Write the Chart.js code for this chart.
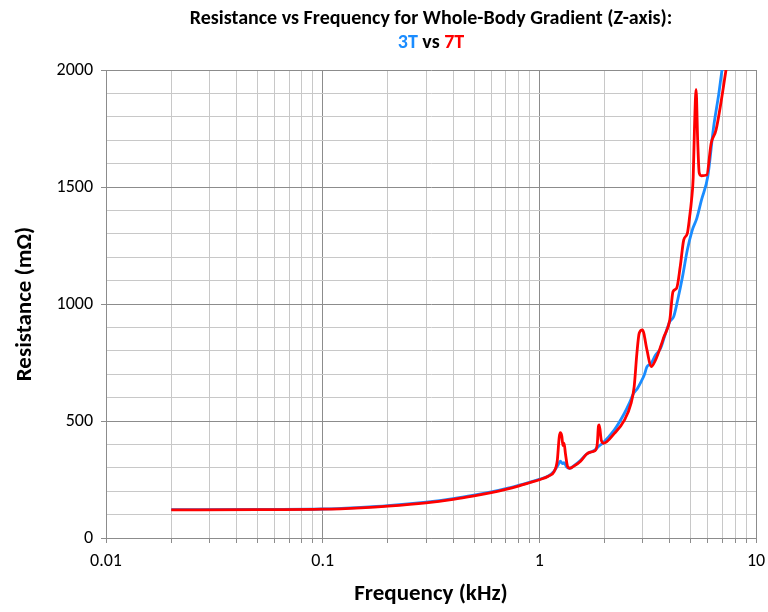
<!DOCTYPE html>
<html>
<head>
<meta charset="utf-8">
<script src="https://cdn.jsdelivr.net/npm/chart.js@4/dist/chart.umd.min.js"></script>
<style>
  html, body { margin: 0; padding: 0; background: #fff; }
  #wrap { width: 768px; height: 612px; }
</style>
</head>
<body>
<div id="wrap"><canvas id="chart" width="768" height="612"></canvas></div>
<script>
// Frequency in kHz, resistance in mOhm
const freq3T = [0.02, 0.05, 0.1, 0.15, 0.2, 0.3, 0.4, 0.5, 0.6, 0.7, 0.8, 0.9, 1.0, 1.1, 1.17,
    1.22, 1.25, 1.28, 1.3, 1.34, 1.38, 1.45, 1.55, 1.65, 1.72, 1.8, 1.88, 1.96, 2.22, 2.47,
    2.6, 2.72, 2.84, 2.95, 3.05, 3.14, 3.28, 3.44, 3.63, 3.76, 4.0, 4.17, 4.35, 4.58, 4.82,
    5.08, 5.33, 5.6, 5.99, 6.37, 6.73, 6.97, 7.3];
const res3T = [121, 122, 124, 131, 138, 153, 168, 183, 197, 211, 225, 238, 251, 265, 286,
    312, 328, 318, 322, 302, 298, 310, 332, 358, 367, 375, 392, 405, 462, 533,
    575, 618, 640, 668, 697, 732, 746, 782, 811, 853, 925, 946, 1017, 1117, 1231,
    1316, 1366, 1444, 1545, 1755, 1897, 2000, 2110];

const freq7T = [0.02, 0.05, 0.1, 0.15, 0.2, 0.3, 0.4, 0.5, 0.6, 0.7, 0.8, 0.9, 1.0, 1.1, 1.17,
    1.21, 1.235, 1.25, 1.27, 1.285, 1.3, 1.32, 1.35, 1.38, 1.45, 1.55, 1.65, 1.72, 1.8, 1.85,
    1.875, 1.89, 1.93, 1.98, 2.22, 2.47, 2.65, 2.74, 2.82, 2.89, 2.99, 3.14, 3.28, 3.44, 3.63,
    3.76, 4.0, 4.14, 4.3, 4.47, 4.64, 4.82, 4.94, 5.04, 5.13, 5.2, 5.29, 5.38, 5.47, 5.6,
    5.92, 6.21, 6.54, 7.27, 7.6];
const res7T = [120, 121, 123, 129, 136, 150, 165, 180, 194, 208, 222, 236, 249, 264, 284,
    330, 430, 450, 435, 395, 405, 360, 305, 298, 308, 328, 358, 367, 372, 400,
    478, 483, 420, 405, 447, 504, 575, 647, 789, 875, 889, 803, 732, 761, 818,
    860, 932, 1053, 1067, 1160, 1274, 1302, 1373, 1444, 1540, 1750, 1917, 1700, 1560, 1548,
    1551, 1687, 1744, 2000, 2120];

const xDecades = [0.01, 0.1, 1, 10];
const yMin = 0, yMax = 2000, yMinorStep = 100, yMajorStep = 500;

const titleLine1 = "Resistance vs Frequency for Whole-Body Gradient (Z-axis):";
const titleLine2 = [["3T", "#1a8cff"], [" vs ", "#000000"], ["7T", "#ff0000"]];

const FONT = "Carlito, Calibri, Lato, sans-serif";
const MAJOR = "#8c8c8c";
const MINOR = "#c8c8c8";

function toPoints(xs, ys) {
    return xs.map((x, i) => ({ x, y: ys[i] }));
}

function isDecade(v) {
    const l = Math.log10(v);
    return Math.abs(l - Math.round(l)) < 1e-9;
}

const titlePlugin = {
    id: "twoLineTitle",
    afterDraw(chart) {
        const { ctx, chartArea } = chart;
        const cx = (chartArea.left + chartArea.right) / 2;
        ctx.save();
        ctx.textBaseline = "middle";
        ctx.font = `bold 20px ${FONT}`;
        ctx.fillStyle = "#000";
        ctx.textAlign = "center";
        ctx.fillText(titleLine1, cx, 19);

        const total = titleLine2.reduce((s, [t]) => s + ctx.measureText(t).width, 0);
        let x = cx - total / 2;
        ctx.textAlign = "left";
        for (const [t, c] of titleLine2) {
            ctx.fillStyle = c;
            ctx.fillText(t, x, 43);
            x += ctx.measureText(t).width;
        }
        ctx.restore();
    },
};

new Chart(document.getElementById("chart"), {
    type: "line",
    data: {
        datasets: [
            {
                label: "3T",
                data: toPoints(freq3T, res3T),
                borderColor: "#1a8cff",
                borderWidth: 2.8,
                pointRadius: 0,
                cubicInterpolationMode: "monotone",
                order: 2,
            },
            {
                label: "7T",
                data: toPoints(freq7T, res7T),
                borderColor: "#ff0000",
                borderWidth: 2.8,
                pointRadius: 0,
                cubicInterpolationMode: "monotone",
                order: 1,
            },
        ],
    },
    options: {
        responsive: false,
        animation: false,
        layout: { padding: { top: 70, right: 12, left: 0, bottom: 0 } },
        plugins: {
            legend: { display: false },
            tooltip: { enabled: false },
            title: { display: false },
        },
        scales: {
            x: {
                type: "logarithmic",
                min: xDecades[0],
                max: xDecades[xDecades.length - 1],
                afterBuildTicks(scale) {
                    const ticks = [];
                    for (let d = 0; d < xDecades.length - 1; d++) {
                        for (let k = 1; k <= 9; k++) ticks.push({ value: k * xDecades[d] });
                    }
                    ticks.push({ value: xDecades[xDecades.length - 1] });
                    scale.ticks = ticks;
                },
                afterFit(scale) {
                    scale.height = 74;
                    scale.paddingLeft = 0;
                    scale.paddingRight = 0;
                },
                ticks: {
                    autoSkip: false,
                    maxRotation: 0,
                    padding: 8,
                    color: "#000",
                    font: { family: FONT, size: 18 },
                    callback: (v) => (isDecade(v) ? String(+v.toPrecision(3)) : ""),
                },
                grid: {
                    color: (c) => (c.tick && isDecade(c.tick.value) ? MAJOR : MINOR),
                    tickColor: MAJOR,
                    tickLength: 5,
                    lineWidth: 1,
                },
                border: { color: MAJOR },
                title: {
                    display: true,
                    text: "Frequency (kHz)",
                    color: "#000",
                    font: { family: FONT, size: 23, weight: "bold" },
                    padding: { top: 0, bottom: 4 },
                },
            },
            y: {
                type: "linear",
                min: yMin,
                max: yMax,
                afterFit(scale) {
                    scale.width = 106;
                    scale.paddingTop = 0;
                    scale.paddingBottom = 0;
                },
                ticks: {
                    stepSize: yMinorStep,
                    autoSkip: false,
                    padding: 8,
                    color: "#000",
                    font: { family: FONT, size: 18 },
                    callback: (v) => (v % yMajorStep === 0 ? String(v) : ""),
                },
                grid: {
                    color: (c) => (c.tick && c.tick.value % yMajorStep === 0 ? MAJOR : MINOR),
                    tickColor: (c) => (c.tick && c.tick.value % yMajorStep === 0 ? MAJOR : "rgba(0,0,0,0)"),
                    tickLength: 5,
                    lineWidth: 1,
                },
                border: { color: MAJOR },
                title: {
                    display: true,
                    text: "Resistance (mΩ)",
                    color: "#000",
                    font: { family: FONT, size: 23, weight: "bold" },
                    padding: { top: 11, bottom: 0 },
                },
            },
        },
    },
    plugins: [titlePlugin],
});
</script>
</body>
</html>
